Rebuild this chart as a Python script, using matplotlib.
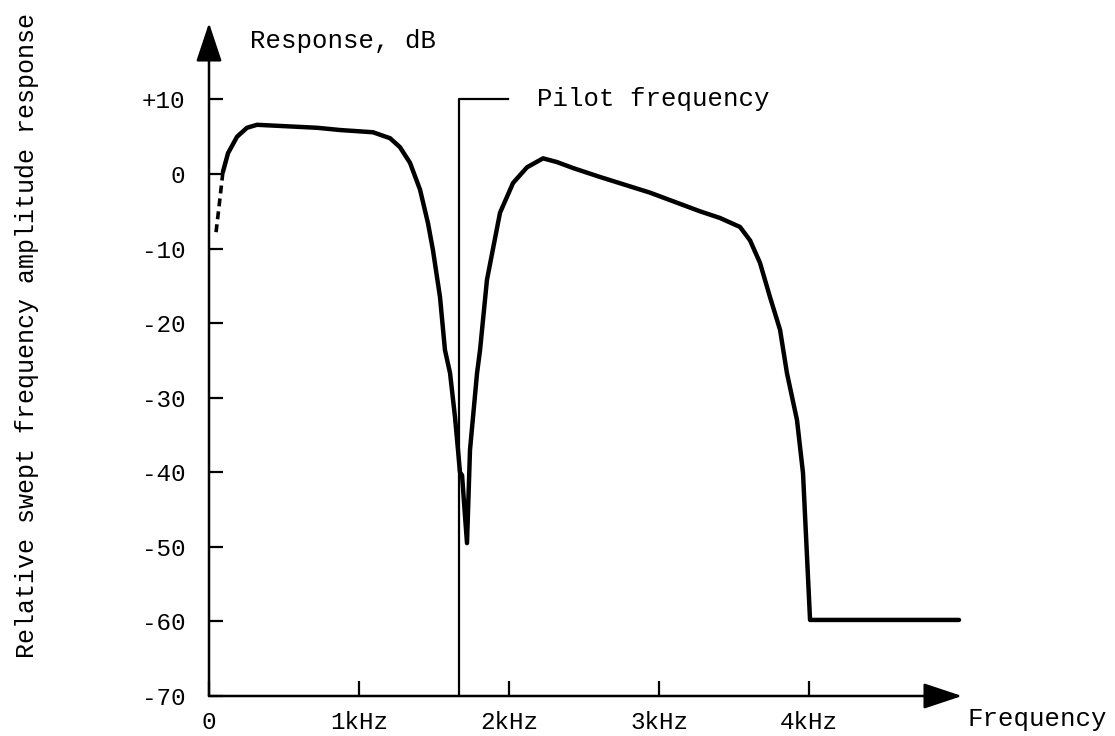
import numpy as np
import matplotlib
matplotlib.use("Agg")
import matplotlib.pyplot as plt

# Swept frequency response (kHz, dB).
freq_dashed = [0.047, 0.07, 0.093]
resp_dashed = [-7.8, -3.8, 0.3]

freq = [0.093, 0.127, 0.187, 0.253, 0.32, 0.72, 0.873, 1.093, 1.207, 1.273,
        1.34, 1.407, 1.46, 1.493, 1.54, 1.573, 1.607, 1.64, 1.66, 1.673,
        1.687, 1.72, 1.74, 1.787, 1.807, 1.853, 1.94, 2.027, 2.12, 2.227,
        2.32, 2.427, 2.607, 2.94, 3.273, 3.407, 3.54, 3.607, 3.673, 3.74,
        3.807, 3.853, 3.92, 3.96, 4.007, 5.0]
resp = [0.3, 2.8, 5.0, 6.2, 6.6, 6.2, 5.9, 5.6, 4.8, 3.6,
        1.5, -2.1, -6.6, -10.2, -16.5, -23.6, -26.7, -32.6, -37.0, -40.0,
        -40.4, -49.5, -37.0, -26.7, -23.6, -14.2, -5.2, -1.2, 0.9, 2.1,
        1.6, 0.8, -0.4, -2.5, -5.0, -5.9, -7.1, -8.9, -11.9, -16.5,
        -20.9, -26.7, -33.0, -40.1, -59.8, -59.8]

pilot_freq = 1.667
pilot_level = 10
pilot_flag_end = 1.99

xticks = [0, 1, 2, 3, 4]
xlabels = ["0", "1kHz", "2kHz", "3kHz", "4kHz"]
yticks = [10, 0, -10, -20, -30, -40, -50, -60, -70]
ylabels = ["+10", "0", "-10", "-20", "-30", "-40", "-50", "-60", "-70"]

W, H = 1115, 736
px_khz = 150.0
px_db = 7.457
x0_px, y70_px = 209, 696
xmax, ymax = 5.5, 22

plt.rcParams["font.family"] = ["Liberation Mono", "DejaVu Sans Mono"]

fig = plt.figure(figsize=(W / 100, H / 100), dpi=100)
ax = fig.add_axes([x0_px / W, 1 - y70_px / H,
                   xmax * px_khz / W, (ymax + 70) * px_db / H])
ax.set_xlim(0, xmax)
ax.set_ylim(-70, ymax)
for s in ax.spines.values():
    s.set_visible(False)

# axes with arrow heads
arrow = dict(arrowstyle="-|>,head_length=2.4,head_width=0.8",
             mutation_scale=10, lw=1.8, color="black",
             shrinkA=0, shrinkB=0)
ax.annotate("", xy=(5.02, -70), xytext=(0, -70), arrowprops=arrow,
            annotation_clip=False)
ax.annotate("", xy=(0, 20.25), xytext=(0, -70), arrowprops=arrow,
            annotation_clip=False)

ax.set_xticks(xticks, xlabels)
ax.set_yticks(yticks, ylabels)
ax.tick_params(axis="x", direction="in", length=11, width=1.6,
               pad=11, labelsize=17.5)
ax.tick_params(axis="y", direction="in", length=10, width=1.6,
               pad=17, labelsize=17.5)

ax.plot(freq, resp, color="black", lw=3.2, solid_joinstyle="round",
        solid_capstyle="round")
ax.plot(freq_dashed, resp_dashed, color="black", lw=2.6, dashes=(2.2, 1.4))

ax.plot([pilot_freq, pilot_freq, pilot_flag_end],
        [-70, pilot_level, pilot_level], color="black", lw=1.6)

ax.text(2.187, pilot_level, "Pilot frequency", fontsize=18.5,
        ha="left", va="center")
ax.text(0.273, 17.8, "Response, dB", fontsize=18.5, ha="left", va="center")
ax.text(5.06, -73.1, "Frequency", fontsize=18.5, ha="left", va="center",
        clip_on=False)
fig.text(27 / W, 1 - 335 / H, "Relative swept frequency amplitude response",
         fontsize=18, rotation=90, ha="center", va="center")

fig.savefig("out.png", dpi=100, facecolor="white")
